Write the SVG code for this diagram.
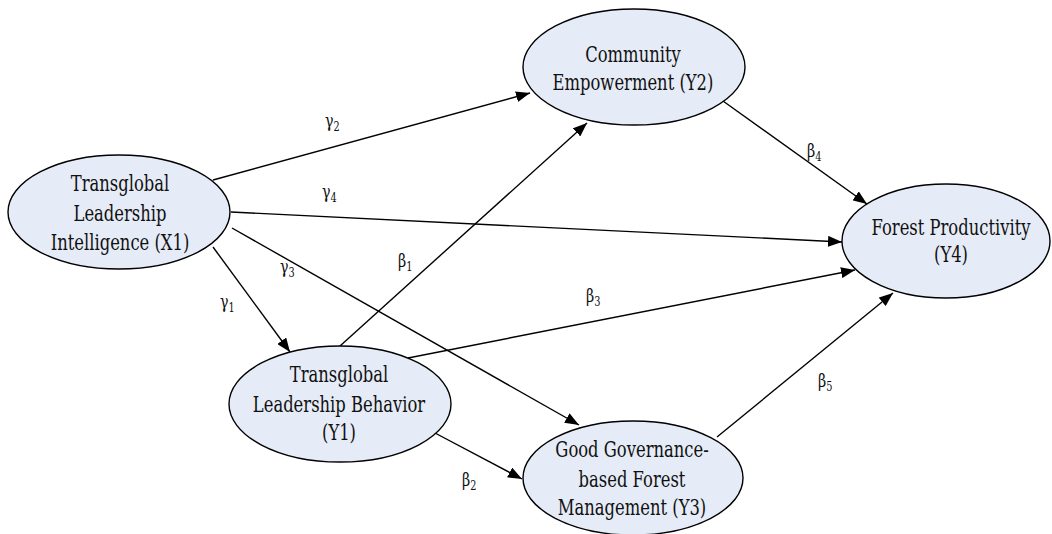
<svg xmlns="http://www.w3.org/2000/svg" width="1052" height="534" viewBox="0 0 1052 534">
<style>
.node{fill:#e6ecf7;stroke:#000;stroke-width:1.4}
.nt{font-family:"DejaVu Serif",serif;font-size:22px;fill:#111;text-anchor:middle}
.lb{font-family:"DejaVu Serif",serif;font-size:19px;fill:#111}
.sub{font-size:13px}
.edge{stroke:#000;stroke-width:1.4;fill:none;marker-end:url(#arr)}
</style>
<defs>
<marker id="arr" markerWidth="15" markerHeight="11" refX="14" refY="5.5" orient="auto" markerUnits="userSpaceOnUse">
<path d="M0,0 L14,5.5 L0,11 z" fill="#000"/>
</marker>
</defs>
<rect width="1052" height="534" fill="#fff"/>
<g id="connectors">
<line class="edge" x1="213" y1="180" x2="530" y2="93"/>
<line class="edge" x1="231" y1="212" x2="842" y2="242"/>
<line class="edge" x1="232" y1="228" x2="579" y2="425"/>
<line class="edge" x1="213" y1="247" x2="290" y2="352"/>
<line class="edge" x1="340" y1="346" x2="587" y2="123"/>
<line class="edge" x1="408" y1="358" x2="855" y2="270"/>
<line class="edge" x1="435" y1="433" x2="522" y2="479"/>
<line class="edge" x1="723" y1="101" x2="867" y2="204"/>
<line class="edge" x1="717" y1="437" x2="893" y2="293"/>
</g>
<g id="labels">
<text class="lb" transform="translate(325,0) scale(0.75,1)"><tspan x="0" y="127">γ</tspan><tspan class="sub" dy="4">2</tspan></text>
<text class="lb" transform="translate(322,0) scale(0.75,1)"><tspan x="0" y="198">γ</tspan><tspan class="sub" dy="4">4</tspan></text>
<text class="lb" transform="translate(280,0) scale(0.75,1)"><tspan x="0" y="273">γ</tspan><tspan class="sub" dy="4">3</tspan></text>
<text class="lb" transform="translate(220,0) scale(0.75,1)"><tspan x="0" y="308">γ</tspan><tspan class="sub" dy="4">1</tspan></text>
<text class="lb" transform="translate(398,0) scale(0.75,1)"><tspan x="0" y="267">β</tspan><tspan class="sub" dy="4">1</tspan></text>
<text class="lb" transform="translate(586,0) scale(0.75,1)"><tspan x="0" y="302">β</tspan><tspan class="sub" dy="4">3</tspan></text>
<text class="lb" transform="translate(462,0) scale(0.75,1)"><tspan x="0" y="486">β</tspan><tspan class="sub" dy="4">2</tspan></text>
<text class="lb" transform="translate(807,0) scale(0.75,1)"><tspan x="0" y="157">β</tspan><tspan class="sub" dy="4">4</tspan></text>
<text class="lb" transform="translate(818,0) scale(0.75,1)"><tspan x="0" y="387">β</tspan><tspan class="sub" dy="4">5</tspan></text>
</g>
<g id="X1">
<ellipse class="node" cx="119" cy="212" rx="111" ry="57"/>
<text class="nt" transform="translate(120,0) scale(0.745,1)"><tspan x="0" y="191">Transglobal</tspan><tspan x="0" y="221">Leadership</tspan><tspan x="0" y="250">Intelligence (X1)</tspan></text>
</g>
<g id="Y2">
<ellipse class="node" cx="634" cy="67" rx="111" ry="58"/>
<text class="nt" transform="translate(633,0) scale(0.745,1)"><tspan x="0" y="62">Community</tspan><tspan x="0" y="90">Empowerment (Y2)</tspan></text>
</g>
<g id="Y4">
<ellipse class="node" cx="946" cy="241" rx="104" ry="57"/>
<text class="nt" transform="translate(951,0) scale(0.745,1)"><tspan x="0" y="235">Forest Productivity</tspan><tspan x="0" y="262">(Y4)</tspan></text>
</g>
<g id="Y1">
<ellipse class="node" cx="340" cy="404" rx="111" ry="58"/>
<text class="nt" transform="translate(339,0) scale(0.745,1)"><tspan x="0" y="382">Transglobal</tspan><tspan x="0" y="412">Leadership Behavior</tspan><tspan x="0" y="440">(Y1)</tspan></text>
</g>
<g id="Y3">
<ellipse class="node" cx="633" cy="478" rx="110" ry="57"/>
<text class="nt" transform="translate(632,0) scale(0.745,1)"><tspan x="0" y="457">Good Governance-</tspan><tspan x="0" y="487">based Forest</tspan><tspan x="0" y="515">Management (Y3)</tspan></text>
</g>
</svg>
